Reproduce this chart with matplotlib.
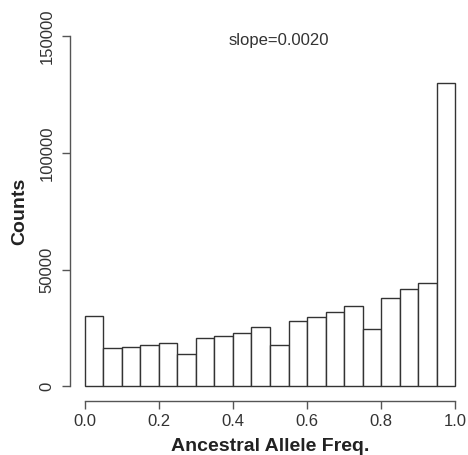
import numpy as np
import matplotlib
matplotlib.use("Agg")
import matplotlib.pyplot as plt

plt.rcParams['font.family'] = ['Liberation Sans', 'DejaVu Sans']

# histogram of ancestral allele frequency, 20 bins of width 0.05
bin_edges = [0.00, 0.05, 0.10, 0.15, 0.20, 0.25, 0.30, 0.35, 0.40, 0.45,
             0.50, 0.55, 0.60, 0.65, 0.70, 0.75, 0.80, 0.85, 0.90, 0.95, 1.00]
counts = [30300, 16300, 17000, 17900, 18600, 13750, 20750, 21600, 22800, 25300,
          17900, 27900, 29600, 31800, 34500, 24500, 37900, 41700, 44200, 130000]
x_ticks = [0.0, 0.2, 0.4, 0.6, 0.8, 1.0]
y_ticks = [0, 50000, 100000, 150000]
slope_text = "slope=0.0020"

W, H = 468, 455
fig = plt.figure(figsize=(W / 100, H / 100), dpi=100)
ax = fig.add_axes([70 / W, 54.5 / H, 400 / W, 378.5 / H])

lefts = bin_edges[:-1]
widths = np.diff(bin_edges)
ax.bar(lefts, counts, width=widths, align='edge', color='white',
       edgecolor='#333333', linewidth=1.0)

ax.set_xlim(-0.04, 1.04)
ax.set_ylim(-6000, 156000)

for s in ['top', 'right']:
    ax.spines[s].set_visible(False)
for s in ['left', 'bottom']:
    ax.spines[s].set_color('#555555')
    ax.spines[s].set_linewidth(1.0)
ax.spines['left'].set_bounds(0, 150000)
ax.spines['bottom'].set_bounds(0, 1)

ax.set_xticks(x_ticks)
ax.set_xticklabels([f"{v:.1f}" for v in x_ticks])
ax.set_yticks(y_ticks)
ax.set_yticklabels([str(v) for v in y_ticks], rotation=90, va='center')
ax.tick_params(axis='both', labelsize=12, colors='#555555', labelcolor='#333333',
               length=6, width=1.0)
ax.tick_params(axis='y', pad=5)
ax.tick_params(axis='x', pad=4)

ax.set_xlabel("Ancestral Allele Freq.", fontsize=14, fontweight='bold',
              color='#222222', labelpad=6)
ax.set_ylabel("Counts", fontsize=14, fontweight='bold', color='#222222',
              labelpad=8)

ax.text(0.524, 148000, slope_text, ha='center', va='center', fontsize=12,
        color='#333333')

fig.savefig("out.png", dpi=100)
